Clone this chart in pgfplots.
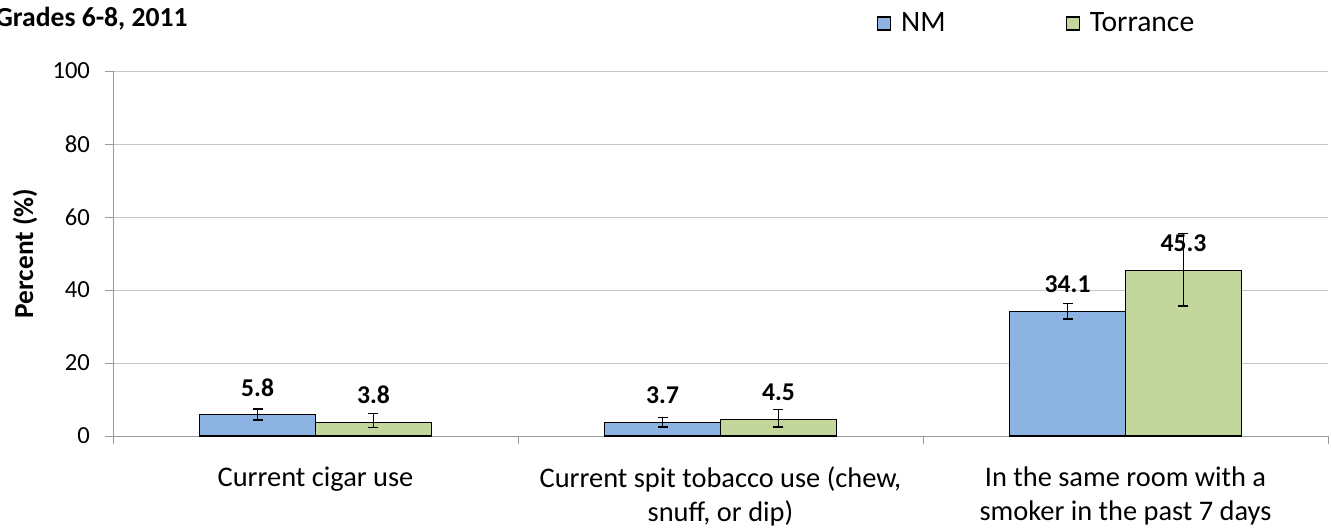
\documentclass[border=0pt]{standalone}
\usepackage{pgfplots}
\pgfplotsset{compat=1.18}
\usepackage{fontspec}
\setmainfont{Carlito}
\definecolor{nmblue}{HTML}{8DB3E2}
\definecolor{tgreen}{HTML}{C3D69B}
\begin{document}
\begin{tikzpicture}
\useasboundingbox (0pt,0pt) rectangle (665.5pt,263.5pt);
\node[anchor=base west, inner sep=0pt, font=\bfseries\fontsize{13.8}{16}\selectfont] at (-2.5pt,250.5pt) {Grades 6-8, 2011};
\begin{axis}[
  at={(56.5pt,45.5pt)}, anchor=south west,
  scale only axis, width=607.5pt, height=182.5pt,
  ybar=0pt, bar width=0.286,
  xmin=-0.5, xmax=2.5, ymin=0, ymax=100,
  enlargelimits=false,
  ytick={0,20,...,100},
  xtick={0,1,2},
  xticklabels={{Current cigar use},{Current spit tobacco use (chew,\\snuff, or dip)},{In the same room with a\\smoker in the past 7 days}},
  xticklabel style={align=center, anchor=north, font=\fontsize{14.2}{17}\selectfont, yshift=-8pt},
  yticklabel style={font=\fontsize{12.3}{14}\selectfont, xshift=-4pt},
  /pgf/number format/assume math mode=true,
  minor xtick={-0.5,0.5,1.5,2.5},
  major x tick style={draw=none},
  tick align=outside, major tick length=4pt, minor tick length=4pt,
  tick style={gray!80},
  axis x line*=bottom, axis y line*=left,
  axis line style={gray!80, -},
  ymajorgrids, grid style={gray!45},
  ylabel={\bfseries Percent (\%)},
  every axis y label/.style={at={(axis description cs:-0.0724,0.5)}, rotate=90, anchor=center, font=\fontsize{13.7}{16}\selectfont},
  nodes near coords,
  nodes near coords style={font=\bfseries\fontsize{12.8}{15}\selectfont, anchor=south, inner sep=0pt, yshift=9pt, /pgf/number format/.cd, fixed, precision=1, fixed zerofill},
  legend columns=2,
  legend style={draw=none, at={(rel axis cs:0.761,1.13)}, anchor=center, font=\fontsize{14.8}{17}\selectfont,
    /tikz/every odd column/.append style={column sep=3pt},
    /tikz/every even column/.append style={column sep=58pt}},
  legend image code/.code={\draw[#1, draw=black] (0pt,-3.25pt) rectangle (6.5pt,3.25pt);},
]
\addplot[fill=nmblue, draw=black, line width=0.6pt,
  error bars/.cd, y dir=both, y explicit,
  error bar style={black, line width=0.8pt},
  error mark options={rotate=90, mark size=2.5pt, line width=0.8pt, black}]
  coordinates {
  (0,5.8) += (0,1.6) -= (0,1.4)
  (1,3.7) += (0,1.4) -= (0,1.2)
  (2,34.1) += (0,2.2) -= (0,2.1)
  };
\addplot[fill=tgreen, draw=black, line width=0.6pt,
  error bars/.cd, y dir=both, y explicit,
  error bar style={black, line width=0.8pt},
  error mark options={rotate=90, mark size=2.5pt, line width=0.8pt, black}]
  coordinates {
  (0,3.8) += (0,2.4) -= (0,1.5)
  (1,4.5) += (0,2.8) -= (0,2.0)
  (2,45.3) += (0,10.2) -= (0,9.7)
  };
\legend{NM, Torrance}
\end{axis}
\end{tikzpicture}
\end{document}
